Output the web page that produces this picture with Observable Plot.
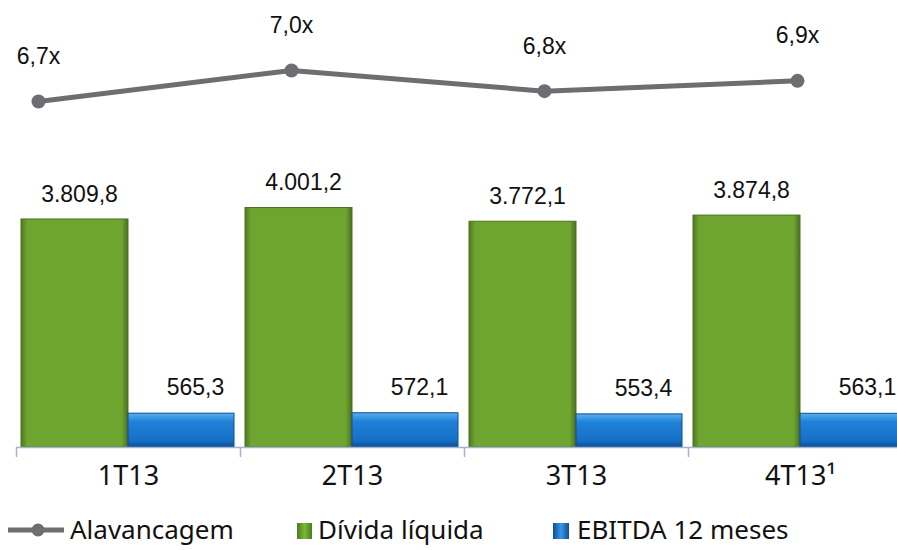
<!DOCTYPE html>
<html><head><meta charset="utf-8">
<script src="https://cdn.jsdelivr.net/npm/d3@7"></script>
<script src="https://cdn.jsdelivr.net/npm/@observablehq/plot@0.6"></script>
<style>
html,body{margin:0;padding:0;background:#fff;}
#wrap{position:relative;width:897px;height:550px;overflow:hidden;}
#line,#bars{position:absolute;left:0;}
#line{top:0;}
#bars{top:150px;}
.leg{position:absolute;top:512px;font-family:"Noto Sans",sans-serif;font-size:26px;color:#111;white-space:nowrap;line-height:34px;}
.sw{position:absolute;}
</style>
</head><body>
<div id="wrap"><div id="line"></div><div id="bars"></div><div id="legend"></div></div>
<script>
const categories = ["1T13", "2T13", "3T13", "4T13¹"];
const leverage = [6.7, 7.0, 6.8, 6.9];
const netDebt = [3809.8, 4001.2, 3772.1, 3874.8];
const ebitda12m = [565.3, 572.1, 553.4, 563.1];
const seriesNames = ["Alavancagem", "Dívida líquida", "EBITDA 12 meses"];

const fmtX = v => v.toFixed(1).replace(".", ",") + "x";
const fmtN = v => {
  const [i, f] = v.toFixed(1).split(".");
  return i.replace(/\B(?=(\d{3})+(?!\d))/g, ".") + "," + f;
};

const lineData = categories.map((c, i) => ({c, v: leverage[i]}));
const barData = categories.map((c, i) => ({c, debt: netDebt[i], ebitda: ebitda12m[i]}));

const valueFont = "Liberation Sans, Arial, sans-serif";
const catFont = "Noto Sans, sans-serif";

// Leverage line
const linePlot = Plot.plot({
  width: 897, height: 150,
  margin: 0,
  x: {type: "point", domain: categories, range: [37, 797], padding: 0, axis: null},
  y: {domain: [6.7, 7.0], range: [101, 70], axis: null},
  marks: [
    Plot.line(lineData, {x: "c", y: "v", stroke: "#6d6e71", strokeWidth: 5}),
    Plot.dot(lineData, {x: "c", y: "v", r: 7, fill: "#6d6e71"}),
    Plot.text(lineData, {x: "c", y: "v", text: d => fmtX(d.v), dy: -45, fontSize: 23, fontFamily: valueFont, fill: "#111"})
  ]
});
document.getElementById("line").append(linePlot);

// Bars
const barPlot = Plot.plot({
  width: 897, height: 345,
  marginLeft: 16, marginRight: 0, marginTop: 0, marginBottom: 48,
  x: {type: "band", domain: categories, range: [16, 912], padding: 0, label: null},
  y: {domain: [0, 4000], range: [297, 297 - 4000 * 0.05985], axis: null},
  marks: [
    Plot.barY(barData, {x: "c", y: "debt", fill: "url(#gGreen)", stroke: "#4b7020", strokeWidth: 1, insetLeft: 5, insetRight: 112}),
    Plot.barY(barData, {x: "c", y: "ebitda", fill: "url(#gBlue)", stroke: "#0e4f8f", strokeWidth: 1, insetLeft: 112, insetRight: 6}),
    Plot.text(barData, {x: "c", y: "debt", text: d => fmtN(d.debt), dx: -49, dy: -25, fontSize: 23, fontFamily: valueFont, fill: "#111"}),
    Plot.text(barData, {x: "c", y: "ebitda", text: d => fmtN(d.ebitda), dx: 67, dy: -26, fontSize: 23, fontFamily: valueFont, fill: "#111"}),
    Plot.ruleY([0], {stroke: "#a3b4d2", strokeWidth: 1.5}),
    Plot.axisX({tickSize: 10, tickFormat: () => "", dx: -112, stroke: "#a3b4d2", strokeWidth: 1.5, label: null}),
    Plot.axisX({tickSize: 0, tickPadding: 18, fontSize: 27, fontFamily: catFont, fill: "#111", label: null})
  ]
});
const defs = `
<linearGradient id="gGreen" x1="0" x2="1" y1="0" y2="0">
  <stop offset="0" stop-color="#4f7a20"/>
  <stop offset="0.06" stop-color="#6ea52f"/>
  <stop offset="0.94" stop-color="#6ea52f"/>
  <stop offset="1" stop-color="#4a7020"/>
</linearGradient>
<linearGradient id="gBlue" x1="0" x2="0" y1="0" y2="1">
  <stop offset="0" stop-color="#5aaef0"/>
  <stop offset="0.25" stop-color="#1f82d8"/>
  <stop offset="0.8" stop-color="#1570c6"/>
  <stop offset="1" stop-color="#0d4f94"/>
</linearGradient>`;
const d = document.createElementNS("http://www.w3.org/2000/svg", "defs");
d.innerHTML = defs;
barPlot.insertBefore(d, barPlot.firstChild);
document.getElementById("bars").append(barPlot);

// Legend
const leg = document.getElementById("legend");
leg.innerHTML = `
<svg class="sw" style="left:6px;top:520px" width="60" height="20"><line x1="2" y1="10" x2="58" y2="10" stroke="#6d6e71" stroke-width="5"/><circle cx="32" cy="10" r="6.5" fill="#6d6e71"/></svg>
<div class="leg" style="left:70px">${seriesNames[0]}</div>
<svg class="sw" style="left:297px;top:523px" width="15" height="16"><rect width="15" height="16" fill="url(#lgG)"/><defs><linearGradient id="lgG" x1="0" x2="1"><stop offset="0" stop-color="#4f7a20"/><stop offset="0.5" stop-color="#7ab83a"/><stop offset="1" stop-color="#4f7a20"/></linearGradient></defs></svg>
<div class="leg" style="left:318px">${seriesNames[1]}</div>
<svg class="sw" style="left:553px;top:523px" width="16" height="16"><rect width="16" height="16" fill="url(#lgB)"/><defs><linearGradient id="lgB" x1="0" x2="1"><stop offset="0" stop-color="#0d4f94"/><stop offset="0.5" stop-color="#3b97e6"/><stop offset="1" stop-color="#0d4f94"/></linearGradient></defs></svg>
<div class="leg" style="left:577px">${seriesNames[2]}</div>`;
</script>
</body></html>
